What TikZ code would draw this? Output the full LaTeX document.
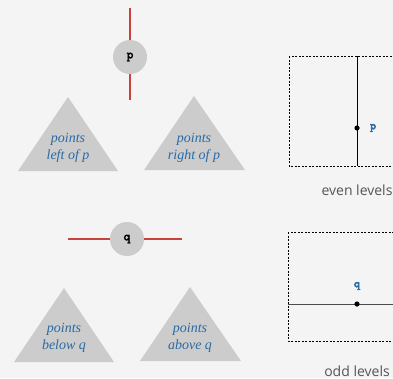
\documentclass[tikz,border=0pt]{standalone}
\usepackage{fontspec}
\setmainfont{Liberation Serif}
\newfontfamily\keyfont{Latin Modern Mono}[AutoFakeBold=3]
\newfontfamily\capfont{Open Sans}
\usetikzlibrary{calc}
\definecolor{BgClr}{HTML}{F4F4F4}
\definecolor{NodeClr}{HTML}{CCCCCC}
\definecolor{SplitClr}{HTML}{C9413B}
\definecolor{TextClr}{HTML}{2A6AA6}
\definecolor{CapClr}{HTML}{555555}

\tikzset{
  keynode/.style={circle,fill=NodeClr,minimum size=34pt,inner sep=0pt,
    font=\keyfont\bfseries\fontsize{13}{13}\selectfont},
  splitline/.style={SplitClr,line width=2.6pt},
  subtree/.style={fill=NodeClr},
  subtext/.style={align=center,text=TextClr,
    font=\itshape\fontsize{14}{17}\selectfont},
  region/.style={line width=0.9pt,dash pattern=on 2pt off 1.5pt},
  caption/.style={anchor=base,inner sep=0pt,text=CapClr,
    font=\capfont\fontsize{14}{16}\selectfont},
  ptlabel/.style={text=TextClr,font=\keyfont\bfseries\fontsize{12}{12}\selectfont}
}

\begin{document}
\begin{tikzpicture}[x=1pt,y=-1pt]
\path[fill=BgClr,use as bounding box] (0,0) rectangle (393,378);
\clip (0,0) rectangle (393,378);

% even level: split by x
\node[keynode] (p) at (130,57) {p};
\coordinate (pTop) at (130,8);
\coordinate (pBot) at (130,100);
\draw[splitline] (pTop) -- (p);
\draw[splitline] (p) -- (pBot);

\fill[subtree] (68,97) -- (118,171) -- (18,171) -- cycle;
\fill[subtree] (194,96) -- (245,170) -- (144,170) -- cycle;
\node[subtext] (pLeft) at (68,148) {points\\left of p};
\node[subtext] (pRight) at (194,148) {points\\right of p};

% odd level: split by y
\node[keynode] (q) at (127,239) {q};
\coordinate (qLeft) at (68,239);
\coordinate (qRight) at (182,239);
\draw[splitline] (qLeft) -- (q);
\draw[splitline] (q) -- (qRight);

\fill[subtree] (64,288) -- (114,362) -- (14,362) -- cycle;
\fill[subtree] (190,287) -- (241,361) -- (140,361) -- cycle;
\node[subtext] (qBelow) at (64,338) {points\\below q};
\node[subtext] (qAbove) at (190,338) {points\\above q};

% the plane
\draw[region] (289,56) rectangle (400,166);
\coordinate (xTop) at (357,56);
\coordinate (xBot) at (357,166);
\draw[line width=1pt] (xTop) -- (xBot);
\fill (357,128) circle (2.6pt);
\node[ptlabel] (pDot) at (373,128) {p};
\node[caption] (even) at (357,195) {even levels};

\draw[region] (288,232) rectangle (400,341);
\coordinate (yLeft) at (288,304);
\coordinate (yRight) at (400,304);
\draw[line width=1pt,black!70] (yLeft) -- (yRight);
\fill (357,304) circle (2.6pt);
\node[ptlabel] (qDot) at (357,286) {q};
\node[caption] (odd) at (357,376) {odd levels};
\end{tikzpicture}
\end{document}
